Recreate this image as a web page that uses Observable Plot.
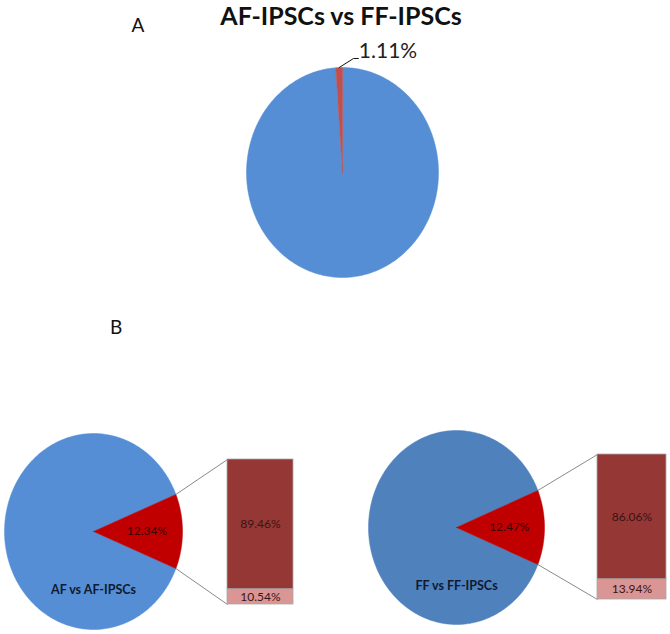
<!DOCTYPE html>
<html>
<head>
<meta charset="utf-8">
<script src="https://cdn.jsdelivr.net/npm/d3@7"></script>
<script src="https://cdn.jsdelivr.net/npm/@observablehq/plot@0.6"></script>
<style>
  html, body { margin: 0; padding: 0; background: #fff; }
  #fig { position: relative; width: 670px; height: 634px; overflow: hidden; font-family: Lato, "Open Sans", sans-serif; }
  .abs { position: absolute; }
  .lbl { position: absolute; line-height: 1; white-space: nowrap; color: #111; }
</style>
</head>
<body>
<div id="fig"></div>
<script>
// ---------------- DATA ----------------
const titleA = "AF-IPSCs vs FF-IPSCs";
const panelLetters = ["A", "B"];

// Panel A pie: main slice, highlighted slice (percent)
const pieASlices = ["rest", "highlight"];
const pieAValues = [98.89, 1.11];

// Panel B pies (percent): rest, highlighted wedge
const pieBSlices = ["rest", "highlight"];
const pieBLeftValues = [87.66, 12.34];
const pieBRightValues = [87.53, 12.47];
const pieBNames = ["AF vs AF-IPSCs", "FF vs FF-IPSCs"];

// Panel B breakdown bars (percent): bottom segment, top segment
const barSegments = ["minor", "major"];
const barLeftValues = [10.54, 89.46];
const barRightValues = [13.94, 86.06];

// ---------------- HELPERS ----------------
const fig = document.getElementById("fig");
const rad = Math.PI / 180;

function place(el, left, top) {
  const d = document.createElement("div");
  d.className = "abs";
  d.style.left = left + "px";
  d.style.top = top + "px";
  d.appendChild(el);
  fig.appendChild(d);
}
function label(text, left, top, size, weight, extra = {}) {
  const d = document.createElement("div");
  d.className = "lbl";
  d.textContent = text;
  d.style.left = left + "px";
  d.style.top = top + "px";
  d.style.fontSize = size + "px";
  d.style.fontWeight = weight;
  Object.assign(d.style, extra);
  fig.appendChild(d);
}
// polygon outline of a pie slice, unit circle, angles clockwise from 12 o'clock (radians)
function slicePoints(key, a0, a1) {
  const pts = [{key, x: 0, y: 0}];
  const n = Math.max(2, Math.ceil(Math.abs(a1 - a0) / rad));
  for (let i = 0; i <= n; i++) {
    const a = a0 + (a1 - a0) * i / n;
    pts.push({key, x: Math.sin(a), y: Math.cos(a)});
  }
  pts.push({key, x: 0, y: 0});
  return pts;
}
function pieArcs(keys, values, start) {
  return d3.pie().sort(null).value(d => d.value).startAngle(start).endAngle(start + 2 * Math.PI)(
    keys.map((k, i) => ({key: k, value: values[i]}))
  );
}
// layout box -> Plot margins so that unit circle maps to the ellipse
function margins(box) {
  return {
    marginLeft: box.cx - box.rx - box.left,
    marginRight: box.width - (box.cx + box.rx - box.left),
    marginTop: box.cy - box.ry - box.top,
    marginBottom: box.height - (box.cy + box.ry - box.top)
  };
}
const noBg = {background: "none", fontFamily: "Lato, sans-serif", overflow: "visible"};

// ---------------- TEXT ----------------
label(titleA, 141, 3, 25, 700, {width: "400px", textAlign: "center"});
label(panelLetters[0], 131.5, 15, 19, 400);
label(panelLetters[1], 110, 317, 19, 400);

// ---------------- PANEL A ----------------
{
  const box = {left: 222, top: 36, width: 240, height: 244, cx: 342, cy: 172, rx: 96, ry: 105};
  const arcs = pieArcs(pieASlices, pieAValues, 0);
  const pts = arcs.flatMap(a => slicePoints(a.data.key, a.startAngle, a.endAngle));
  const hi = arcs[1];
  const mid = (hi.startAngle + hi.endAngle) / 2;
  const leader = [
    {x: Math.sin(mid), y: Math.cos(mid)},
    {x: 0.115, y: 1.086},
    {x: 0.165, y: 1.086}
  ];
  const svg = Plot.plot({
    width: box.width, height: box.height, ...margins(box),
    x: {domain: [-1, 1], axis: null},
    y: {domain: [-1, 1], axis: null},
    color: {domain: pieASlices, range: ["#558ED5", "#C0504D"]},
    style: noBg,
    marks: [
      Plot.line(pts, {x: "x", y: "y", z: "key", fill: "key", stroke: "key", strokeWidth: 0.5, curve: "linear"}),
      Plot.line(leader, {x: "x", y: "y", stroke: "#111", strokeWidth: 1}),
      Plot.text([hi.data.value], {x: () => 0.17, y: () => 1.095, text: d => d.toFixed(2) + "%",
        textAnchor: "start", lineAnchor: "bottom", fontSize: 21, fill: "#222"})
    ]
  });
  place(svg, box.left, box.top);
}

// ---------------- PANEL B ----------------
function panelB(values, name, barValues, pieColor, box, bar) {
  const redDeg = values[1] * 3.6;
  const start = (90 - (values[0] * 3.6) - redDeg / 2) * rad;
  const arcs = pieArcs(pieBSlices, values, start);
  const pts = arcs.flatMap(a => slicePoints(a.data.key, a.startAngle, a.endAngle));
  const hi = arcs[1];
  const mid = (hi.startAngle + hi.endAngle) / 2;
  // connectors: wedge edges -> bar corners (bar box in pie units)
  const bx = (bar.x1 - box.cx) / box.rx;
  const byTop = (box.cy - bar.top) / box.ry;
  const byBot = (box.cy - bar.bottom) / box.ry;
  const links = [
    {x1: Math.sin(hi.startAngle), y1: Math.cos(hi.startAngle), x2: bx, y2: byTop},
    {x1: Math.sin(hi.endAngle), y1: Math.cos(hi.endAngle), x2: bx, y2: byBot}
  ];
  const svg = Plot.plot({
    width: box.width, height: box.height, ...margins(box),
    x: {domain: [-1, 1], axis: null},
    y: {domain: [-1, 1], axis: null},
    color: {domain: pieBSlices, range: [pieColor, "#C00000"]},
    style: noBg,
    marks: [
      Plot.line(pts, {x: "x", y: "y", z: "key", fill: "key", stroke: "key", strokeWidth: 0.5, curve: "linear"}),
      Plot.link(links, {x1: "x1", y1: "y1", x2: "x2", y2: "y2", stroke: "#8a8a8a", strokeWidth: 1}),
      Plot.text([hi.data.value], {x: () => 0.6 * Math.sin(mid), y: () => 0.6 * Math.cos(mid),
        text: d => d.toFixed(2) + "%", fontSize: 12, fill: "#3a0505"}),
      Plot.text([name], {x: () => 0, y: () => -0.64, text: d => d, lineAnchor: "bottom",
        fontSize: 12.5, fontWeight: 700, fill: "#0f1a30"})
    ]
  });
  place(svg, box.left, box.top);

  const barData = barSegments.map((s, i) => ({group: "bar", segment: s, value: barValues[i]}));
  const bw = bar.x2 - bar.x1, bh = bar.bottom - bar.top;
  const barSvg = Plot.plot({
    width: bw + 2, height: bh + 2, margin: 1,
    x: {type: "band", domain: ["bar"], padding: 0, axis: null},
    y: {domain: [0, 100], axis: null},
    color: {domain: barSegments, range: ["#D99694", "#953735"]},
    style: noBg,
    marks: [
      Plot.barY(barData, Plot.stackY({x: "group", y: "value", fill: "segment", stroke: "#a8a8a8", strokeWidth: 0.8, inset: 0})),
      Plot.text(barData, Plot.stackY({x: "group", y: "value", text: d => d.value.toFixed(2) + "%",
        fontSize: 12, fill: "#3a1414"}))
    ]
  });
  place(barSvg, bar.x1 - 1, bar.top - 1);
}

panelB(pieBLeftValues, pieBNames[0], barLeftValues, "#558ED5",
  {left: 0, top: 425, width: 300, height: 209, cx: 93, cy: 531, rx: 89, ry: 98},
  {x1: 227, x2: 293, top: 459, bottom: 604});
panelB(pieBRightValues, pieBNames[1], barRightValues, "#4F81BD",
  {left: 360, top: 420, width: 310, height: 214, cx: 456, cy: 527, rx: 88, ry: 97},
  {x1: 597, x2: 666, top: 454, bottom: 599});
</script>
</body>
</html>
